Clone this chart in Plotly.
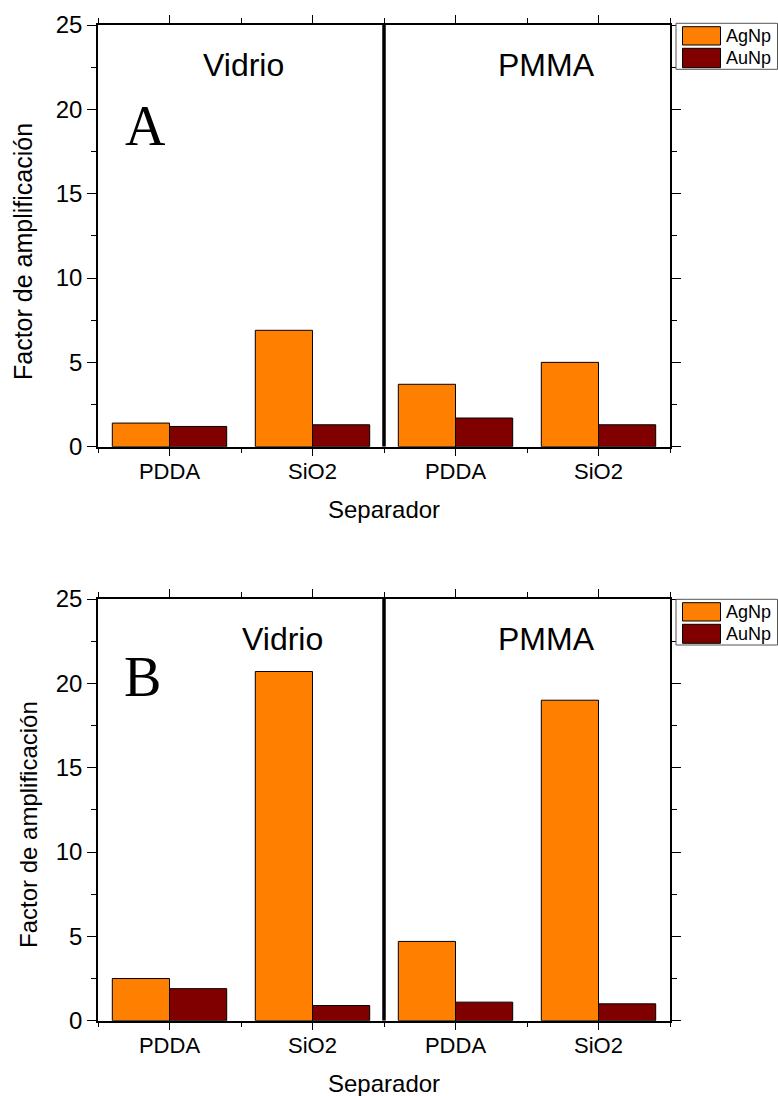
import plotly.graph_objects as go

# ---- data ----
separators = ["PDDA", "SiO2", "PDDA", "SiO2"]
positions = [1, 2, 3, 4]
substrates = ["Vidrio", "PMMA"]
series_names = ["AgNp", "AuNp"]
colors = ["#FF8000", "#800000"]

a_agnp = [1.4, 6.9, 3.7, 5.0]
a_aunp = [1.2, 1.3, 1.7, 1.3]
b_agnp = [2.5, 20.7, 4.7, 19.0]
b_aunp = [1.9, 0.9, 1.1, 1.0]

y_ticks = [0, 5, 10, 15, 20, 25]

W, H = 778, 1096

def px_x(x):
    return x / W

def px_y(y):
    return 1 - y / H

fig = go.Figure()

for (ag, au, xa, ya) in [(a_agnp, a_aunp, "x", "y"), (b_agnp, b_aunp, "x2", "y2")]:
    for name, vals, col in zip(series_names, [ag, au], colors):
        fig.add_trace(go.Bar(
            x=positions, y=vals, name=name, xaxis=xa, yaxis=ya,
            marker=dict(color=col, line=dict(color="black", width=1)),
            showlegend=False,
        ))

tick_font = dict(family="Arial, Liberation Sans, sans-serif", size=22, color="black")
ytick_font = dict(family="Arial, Liberation Sans, sans-serif", size=24, color="black")

def xaxis_cfg(anchor):
    return dict(
        domain=[px_x(98), px_x(670)], anchor=anchor, range=[0.5, 4.5],
        tickvals=positions, ticktext=separators, tickfont=tick_font,
        ticks="outside", ticklen=8, tickwidth=1.3, tickcolor="black",
        ticklabelstandoff=-4,
        minor=dict(tickvals=[0.5, 1.5, 2.5, 3.5, 4.5], ticks="outside", ticklen=5, tickwidth=1.3, tickcolor="black"),
        showline=True, linecolor="black", linewidth=1.5, mirror="ticks",
        showgrid=False, zeroline=False, fixedrange=True, automargin=False,
    )

def yaxis_cfg(anchor, top, bottom):
    return dict(
        domain=[px_y(bottom), px_y(top)], anchor=anchor, range=[0, 25],
        tickvals=y_ticks, tickfont=ytick_font,
        ticks="outside", ticklen=9, tickwidth=1.3, tickcolor="black",
        minor=dict(dtick=2.5, tick0=0, ticks="outside", ticklen=5, tickwidth=1.3, tickcolor="black"),
        showline=True, linecolor="black", linewidth=1.5, mirror="ticks",
        showgrid=False, zeroline=False, fixedrange=True, automargin=False,
    )

fig.update_layout(
    template="none",
    width=W, height=H,
    margin=dict(l=0, r=0, t=0, b=0, pad=0, autoexpand=False),
    paper_bgcolor="white", plot_bgcolor="white",
    barmode="group", bargap=0.2, bargroupgap=0,
    xaxis=xaxis_cfg("y"),
    yaxis=yaxis_cfg("x", 25, 446.7),
    xaxis2=xaxis_cfg("y2"),
    yaxis2=yaxis_cfg("x2", 599, 1020.7),
    showlegend=False,
)

# dividers between substrates
for xa, ya in [("x", "y"), ("x2", "y2")]:
    fig.add_shape(type="line", xref=xa, yref=ya, x0=2.5, x1=2.5, y0=0, y1=25,
                  line=dict(color="black", width=3.5))

arial = "Arial, Liberation Sans, sans-serif"
times = "Times New Roman, Liberation Serif, serif"

ann = []
# panel A
ann.append(dict(x=1.517, y=22.6, xref="x", yref="y", text="Vidrio", showarrow=False,
                font=dict(family=arial, size=32, color="black")))
ann.append(dict(x=3.633, y=22.6, xref="x", yref="y", text="PMMA", showarrow=False,
                font=dict(family=arial, size=32, color="black")))
ann.append(dict(x=0.83, y=19.0, xref="x", yref="y", text="A", showarrow=False,
                font=dict(family=times, size=56, color="black")))
# panel B
ann.append(dict(x=1.787, y=22.65, xref="x2", yref="y2", text="Vidrio", showarrow=False,
                font=dict(family=arial, size=32, color="black")))
ann.append(dict(x=3.633, y=22.65, xref="x2", yref="y2", text="PMMA", showarrow=False,
                font=dict(family=arial, size=32, color="black")))
ann.append(dict(x=0.81, y=20.35, xref="x2", yref="y2", text="B", showarrow=False,
                font=dict(family=times, size=56, color="black")))

# axis titles
for (xc, yc, size) in [(23, 252, 25), (28, 825, 24)]:
    ann.append(dict(x=px_x(xc), y=px_y(yc), xref="paper", yref="paper",
                    text="Factor de amplificación", textangle=-90, showarrow=False,
                    font=dict(family=arial, size=size, color="black"),
                    xanchor="center", yanchor="middle"))
for yc in [509, 1083]:
    ann.append(dict(x=px_x(384), y=px_y(yc), xref="paper", yref="paper",
                    text="Separador", showarrow=False,
                    font=dict(family=arial, size=24, color="black"),
                    xanchor="center", yanchor="middle"))

# legends (drawn manually)
for (btop, bbot, sw) in [(23.3, 69.3, [(26.7, 45), (48.3, 67.7)]),
                         (599.3, 645, [(602.7, 621), (624.3, 643.3)])]:
    fig.add_shape(type="rect", xref="paper", yref="paper",
                  x0=px_x(676), x1=px_x(777.5), y0=px_y(bbot), y1=px_y(btop),
                  line=dict(color="#555555", width=1), fillcolor="white")
    for (s0, s1), name, col in zip(sw, series_names, colors):
        fig.add_shape(type="rect", xref="paper", yref="paper",
                      x0=px_x(682.5), x1=px_x(720.5), y0=px_y(s1), y1=px_y(s0),
                      line=dict(color="black", width=1), fillcolor=col)
        ann.append(dict(x=px_x(724), y=px_y((s0 + s1) / 2), xref="paper", yref="paper",
                        text=name, showarrow=False, xanchor="left", yanchor="middle",
                        font=dict(family=arial, size=18, color="black")))

fig.update_layout(annotations=ann)

fig.write_html("out.html")
